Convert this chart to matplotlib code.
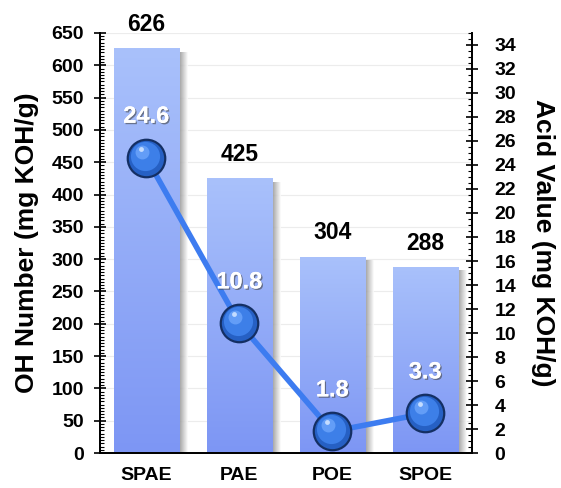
import matplotlib
matplotlib.use("Agg")
from matplotlib import pyplot as plt
from matplotlib.ticker import MultipleLocator
from matplotlib import patheffects as pe
from matplotlib.patches import Rectangle
from matplotlib.transforms import offset_copy
from matplotlib.colors import LinearSegmentedColormap
import numpy as np

categories = ["SPAE", "PAE", "POE", "SPOE"]
oh_number = [626, 425, 304, 288]
acid_value = [24.6, 10.8, 1.8, 3.3]

plt.rcParams['font.family'] = ['Liberation Sans', 'DejaVu Sans']
plt.rcParams['font.weight'] = 'bold'

fig = plt.figure(figsize=(5.61, 4.88), dpi=100)
ax = fig.add_axes([0.178, 0.0717, 0.663, 0.8607])
ax2 = ax.twinx()

x = np.arange(len(categories))
bar_w = 0.7

ax.set_xlim(-0.5, len(categories) - 0.5)
ax.set_ylim(0, 650)
ax2.set_ylim(0, 35)

# faint grid at left major ticks
for v in range(50, 651, 50):
    ax.axhline(v, color="#ececec", lw=0.8, zorder=0)

# bars with vertical gradient + soft shadow on the right
grad = np.linspace(0, 1, 256).reshape(-1, 1)
bar_cmap = LinearSegmentedColormap.from_list("bar", ["#7d96f4", "#a9c1fb"])
shadow_cmap = LinearSegmentedColormap.from_list("sh", ["#8c8c8c", "#ffffff"])
for xi, h in zip(x, oh_number):
    left = xi - bar_w / 2
    sh = np.linspace(0, 1, 64).reshape(1, -1)
    ax.imshow(sh, extent=(left + bar_w, left + bar_w + 0.09, 0, h - 6),
              aspect='auto', cmap=shadow_cmap, zorder=1, alpha=0.85)
    im = ax.imshow(grad, extent=(left, left + bar_w, 0, h), origin='lower',
                   aspect='auto', cmap=bar_cmap, zorder=2)
    rect = Rectangle((left, 0), bar_w, h, transform=ax.transData, fill=False, lw=0)
    ax.add_patch(rect)
    im.set_clip_path(rect)
    ax.text(xi, h + 19, str(h), ha='center', va='bottom', fontsize=16.5,
            fontweight='bold', color='black', zorder=5)

# acid value line with glossy sphere markers
ax2.plot(x, acid_value, color="#3d7cf0", lw=4, zorder=3, solid_capstyle='round')
ax2.plot(x, acid_value, 'o', ms=27, mfc="#2660c4", mec="#142f63", mew=1.6, zorder=4)
hl0 = offset_copy(ax2.transData, fig=fig, x=-1.2, y=1.5, units='points')
ax2.plot(x, acid_value, 'o', ms=21, mfc="#3d7fe8", mec='none', transform=hl0, zorder=5)
hl = offset_copy(ax2.transData, fig=fig, x=-3, y=4.5, units='points')
ax2.plot(x, acid_value, 'o', ms=10, mfc="#6aa3fa", mec='none', alpha=0.85, transform=hl, zorder=6)
hl2 = offset_copy(ax2.transData, fig=fig, x=-4, y=6.5, units='points')
ax2.plot(x, acid_value, 'o', ms=3.5, mfc="#c4dcff", mec='none', transform=hl2, zorder=7)
for xi, v in zip(x, acid_value):
    ax2.text(xi, v + 2.5, f"{v}", ha='center', va='bottom', fontsize=17,
             fontweight='bold', color='white', zorder=8,
             path_effects=[pe.withSimplePatchShadow(offset=(1, -1), shadow_rgbFace='#444444', alpha=0.6), pe.Normal()])

ax.set_xticks(x)
ax.set_xticklabels(categories, fontsize=14, fontweight='bold')
ax.tick_params(axis='x', length=0, pad=10)

ax.yaxis.set_major_locator(MultipleLocator(50))
ax.yaxis.set_minor_locator(MultipleLocator(5))
ax.tick_params(axis='y', which='major', direction='inout', length=9, width=1.2, labelsize=14, pad=7)
ax.tick_params(axis='y', which='minor', direction='in', length=3, width=0.8)

ax2.set_yticks(np.arange(0, 35, 2))
ax2.yaxis.set_minor_locator(MultipleLocator(0.5))
ax2.tick_params(axis='y', which='major', direction='inout', length=9, width=1.2, labelsize=14, pad=12)
ax2.tick_params(axis='y', which='minor', direction='in', length=3, width=0.8)

for a in (ax, ax2):
    a.spines['top'].set_visible(False)
    for s in ('left', 'right', 'bottom'):
        a.spines[s].set_linewidth(1.3)
for lab in ax.get_yticklabels() + ax2.get_yticklabels():
    lab.set_fontweight('bold')

ax.set_ylabel("OH Number (mg KOH/g)", fontsize=19, fontweight='bold', labelpad=9)
ax2.set_ylabel("Acid Value (mg KOH/g)", fontsize=19, fontweight='bold', rotation=270, labelpad=28)

fig.savefig("out.png", dpi=100)
